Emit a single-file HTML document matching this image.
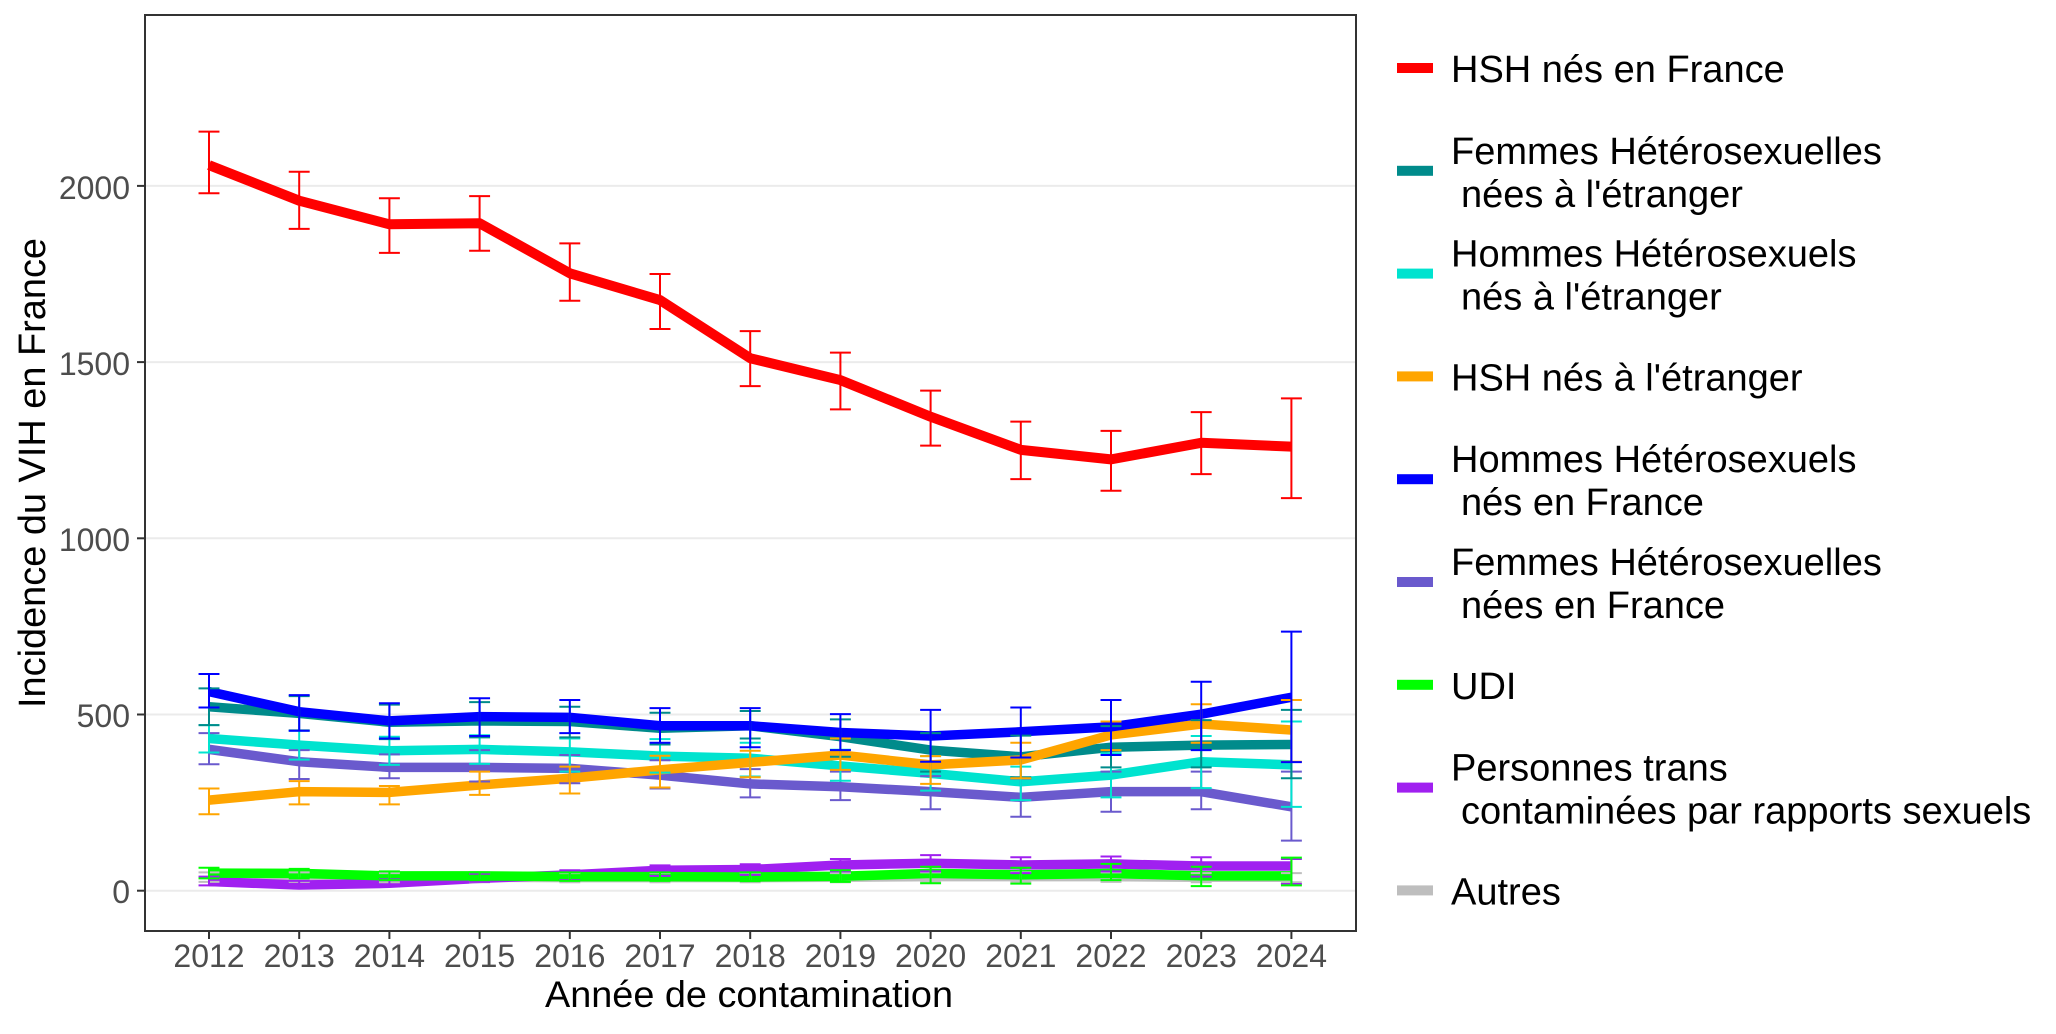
<!DOCTYPE html>
<html><head><meta charset="utf-8"><style>
html,body{margin:0;padding:0;background:#fff;}
svg{display:block;}
text{font-family:"Liberation Sans",Arial,sans-serif;}
</style></head><body>
<svg width="2056" height="1034" viewBox="0 0 2056 1034" xmlns="http://www.w3.org/2000/svg">
<rect x="0" y="0" width="2056" height="1034" fill="#fff"/>
<!-- gridlines -->
<g stroke="#EBEBEB" stroke-width="2">
<line x1="145" x2="1356" y1="890.7" y2="890.7"/>
<line x1="145" x2="1356" y1="714.5" y2="714.5"/>
<line x1="145" x2="1356" y1="538.3" y2="538.3"/>
<line x1="145" x2="1356" y1="362.1" y2="362.1"/>
<line x1="145" x2="1356" y1="185.9" y2="185.9"/>
</g>
<!-- data -->
<g transform="translate(209 890.7) scale(90.2 -0.3524)" fill="none" stroke-linejoin="round">
<g stroke-width="9.5">
<polyline vector-effect="non-scaling-stroke" stroke="#BEBEBE" points="0,40 1,40 2,38 3,38 4,37 5,37 6,37 7,38 8,40 9,40 10,40 11,38 12,38"/>
<polyline vector-effect="non-scaling-stroke" stroke="#A020F0" points="0,26 1,16 2,21 3,35 4,45 5,58 6,60 7,73 8,78 9,73 10,76 11,70 12,70"/>
<polyline vector-effect="non-scaling-stroke" stroke="#00FF00" points="0,50 1,49 2,42 3,42 4,40 5,40 6,39 7,41 8,49 9,45 10,49 11,42 12,42"/>
<polyline vector-effect="non-scaling-stroke" stroke="#6A5ACD" points="0,401 1,366 2,350 3,350 4,347 5,328 6,303 7,295 8,281 9,265 10,281 11,281 12,238"/>
<polyline vector-effect="non-scaling-stroke" stroke="#00E3CF" points="0,432 1,413 2,397 3,401 4,394 5,382 6,376 7,354 8,333 9,309 10,328 11,366 12,357"/>
<polyline vector-effect="non-scaling-stroke" stroke="#008B8B" points="0,522 1,503 2,478 3,482 4,480 5,461 6,468 7,437 8,399 9,380 10,407 11,413 12,415"/>
<polyline vector-effect="non-scaling-stroke" stroke="#FFA500" points="0,257 1,281 2,279 3,300 4,319 5,343 6,364 7,385 8,357 9,371 10,442 11,473 12,456"/>
<polyline vector-effect="non-scaling-stroke" stroke="#0000FF" points="0,565 1,508 2,482 3,494 4,492 5,468 6,468 7,449 8,439 9,451 10,465 11,501 12,549"/>
<polyline vector-effect="non-scaling-stroke" stroke="#FF0000" stroke-width="10" points="0,2059 1,1958 2,1891 3,1894 4,1752 5,1676 6,1511 7,1449 8,1345 9,1251 10,1224 11,1271 12,1260"/>
</g>
<g stroke-width="2">
<path vector-effect="non-scaling-stroke" stroke="#BEBEBE" d="M0 25V52M-.116 52H.116M-.116 25H.116M1 25V52M.884 52H1.116M.884 25H1.116M2 24V50M1.884 50H2.116M1.884 24H2.116M3 24V50M2.884 50H3.116M2.884 24H3.116M4 24V50M3.884 50H4.116M3.884 24H4.116M5 24V50M4.884 50H5.116M4.884 24H5.116M6 24V50M5.884 50H6.116M5.884 24H6.116M7 24V50M6.884 50H7.116M6.884 24H7.116M8 25V52M7.884 52H8.116M7.884 25H8.116M9 25V52M8.884 52H9.116M8.884 25H9.116M10 25V52M9.884 52H10.116M9.884 25H10.116M11 24V50M10.884 50H11.116M10.884 24H11.116M12 24V50M11.884 50H12.116M11.884 24H12.116"/>
<path vector-effect="non-scaling-stroke" stroke="#A020F0" d="M0 15V40M-.116 40H.116M-.116 15H.116M1 8V28M.884 28H1.116M.884 8H1.116M2 12V32M1.884 32H2.116M1.884 12H2.116M3 25V48M2.884 48H3.116M2.884 25H3.116M4 30V58M3.884 58H4.116M3.884 30H4.116M5 42V72M4.884 72H5.116M4.884 42H5.116M6 45V75M5.884 75H6.116M5.884 45H6.116M7 55V90M6.884 90H7.116M6.884 55H7.116M8 55V101M7.884 101H8.116M7.884 55H8.116M9 50V95M8.884 95H9.116M8.884 50H9.116M10 55V97M9.884 97H10.116M9.884 55H10.116M11 40V95M10.884 95H11.116M10.884 40H11.116M12 19V90M11.884 90H12.116M11.884 19H12.116"/>
<path vector-effect="non-scaling-stroke" stroke="#00FF00" d="M0 35V65M-.116 65H.116M-.116 35H.116M1 35V62M.884 62H1.116M.884 35H1.116M2 30V55M1.884 55H2.116M1.884 30H2.116M3 30V52M2.884 52H3.116M2.884 30H3.116M4 28V52M3.884 52H4.116M3.884 28H4.116M5 28V52M4.884 52H5.116M4.884 28H5.116M6 27V52M5.884 52H6.116M5.884 27H6.116M7 25V58M6.884 58H7.116M6.884 25H7.116M8 21V68M7.884 68H8.116M7.884 21H8.116M9 20V65M8.884 65H9.116M8.884 20H9.116M10 30V76M9.884 76H10.116M9.884 30H10.116M11 13V68M10.884 68H11.116M10.884 13H11.116M12 15V94M11.884 94H12.116M11.884 15H12.116"/>
<path vector-effect="non-scaling-stroke" stroke="#6A5ACD" d="M0 359V447M-.116 447H.116M-.116 359H.116M1 317V399M.884 399H1.116M.884 317H1.116M2 319V387M1.884 387H2.116M1.884 319H2.116M3 310V399M2.884 399H3.116M2.884 310H3.116M4 305V385M3.884 385H4.116M3.884 305H4.116M5 290V370M4.884 370H5.116M4.884 290H5.116M6 265V345M5.884 345H6.116M5.884 265H6.116M7 257V338M6.884 338H7.116M6.884 257H7.116M8 231V325M7.884 325H8.116M7.884 231H8.116M9 210V318M8.884 318H9.116M8.884 210H9.116M10 224V338M9.884 338H10.116M9.884 224H10.116M11 231V338M10.884 338H11.116M10.884 231H11.116M12 142V338M11.884 338H12.116M11.884 142H12.116"/>
<path vector-effect="non-scaling-stroke" stroke="#00E3CF" d="M0 392V470M-.116 470H.116M-.116 392H.116M1 372V454M.884 454H1.116M.884 372H1.116M2 357V437M1.884 437H2.116M1.884 357H2.116M3 360V441M2.884 441H3.116M2.884 360H3.116M4 338V432M3.884 432H4.116M3.884 338H4.116M5 335V430M4.884 430H5.116M4.884 335H5.116M6 324V420M5.884 420H6.116M5.884 324H6.116M7 312V400M6.884 400H7.116M6.884 312H7.116M8 284V382M7.884 382H8.116M7.884 284H8.116M9 257V352M8.884 352H9.116M8.884 257H9.116M10 265V390M9.884 390H10.116M9.884 265H10.116M11 291V439M10.884 439H11.116M10.884 291H11.116M12 238V480M11.884 480H12.116M11.884 238H12.116"/>
<path vector-effect="non-scaling-stroke" stroke="#008B8B" d="M0 470V574M-.116 574H.116M-.116 470H.116M1 455V552M.884 552H1.116M.884 455H1.116M2 430V528M1.884 528H2.116M1.884 430H2.116M3 435V535M2.884 535H3.116M2.884 435H3.116M4 435V522M3.884 522H4.116M3.884 435H4.116M5 415V505M4.884 505H5.116M4.884 415H5.116M6 432V510M5.884 510H6.116M5.884 432H6.116M7 380V486M6.884 486H7.116M6.884 380H7.116M8 338V447M7.884 447H8.116M7.884 338H8.116M9 322V440M8.884 440H9.116M8.884 322H9.116M10 350V467M9.884 467H10.116M9.884 350H10.116M11 350V484M10.884 484H11.116M10.884 350H11.116M12 319V513M11.884 513H12.116M11.884 319H12.116"/>
<path vector-effect="non-scaling-stroke" stroke="#FFA500" d="M0 217V290M-.116 290H.116M-.116 217H.116M1 245V311M.884 311H1.116M.884 245H1.116M2 245V297M1.884 297H2.116M1.884 245H2.116M3 272V338M2.884 338H3.116M2.884 272H3.116M4 276V352M3.884 352H4.116M3.884 276H4.116M5 293V383M4.884 383H5.116M4.884 293H5.116M6 322V397M5.884 397H6.116M5.884 322H6.116M7 343V432M6.884 432H7.116M6.884 343H7.116M8 303V382M7.884 382H8.116M7.884 303H8.116M9 319V420M8.884 420H9.116M8.884 319H9.116M10 399V480M9.884 480H10.116M9.884 399H10.116M11 420V529M10.884 529H11.116M10.884 420H11.116M12 366V541M11.884 541H12.116M11.884 366H12.116"/>
<path vector-effect="non-scaling-stroke" stroke="#0000FF" d="M0 520V615M-.116 615H.116M-.116 520H.116M1 454V555M.884 555H1.116M.884 454H1.116M2 432V532M1.884 532H2.116M1.884 432H2.116M3 439V546M2.884 546H3.116M2.884 439H3.116M4 447V541M3.884 541H4.116M3.884 447H4.116M5 420V518M4.884 518H5.116M4.884 420H5.116M6 407V518M5.884 518H6.116M5.884 407H6.116M7 399V501M6.884 501H7.116M6.884 399H7.116M8 366V513M7.884 513H8.116M7.884 366H8.116M9 378V520M8.884 520H9.116M8.884 378H9.116M10 385V541M9.884 541H10.116M9.884 385H10.116M11 399V593M10.884 593H11.116M10.884 399H11.116M12 365V735M11.884 735H12.116M11.884 365H12.116"/>
<path vector-effect="non-scaling-stroke" stroke="#FF0000" d="M0 1979V2154M-.116 2154H.116M-.116 1979H.116M1 1878V2040M.884 2040H1.116M.884 1878H1.116M2 1810V1965M1.884 1965H2.116M1.884 1810H2.116M3 1816V1971M2.884 1971H3.116M2.884 1816H3.116M4 1674V1837M3.884 1837H4.116M3.884 1674H4.116M5 1594V1750M4.884 1750H5.116M4.884 1594H5.116M6 1432V1588M5.884 1588H6.116M5.884 1432H6.116M7 1366V1527M6.884 1527H7.116M6.884 1366H7.116M8 1263V1419M7.884 1419H8.116M7.884 1263H8.116M9 1168V1331M8.884 1331H9.116M8.884 1168H9.116M10 1135V1305M9.884 1305H10.116M9.884 1135H10.116M11 1182V1358M10.884 1358H11.116M10.884 1182H11.116M12 1114V1397M11.884 1397H12.116M11.884 1114H12.116"/>
</g>
</g>
<!-- panel border -->
<rect x="145" y="15" width="1211" height="916" fill="none" stroke="#333333" stroke-width="2"/>
<!-- ticks -->
<g stroke="#333333" stroke-width="2">
<line x1="137" x2="145" y1="890.7" y2="890.7"/>
<line x1="137" x2="145" y1="714.5" y2="714.5"/>
<line x1="137" x2="145" y1="538.3" y2="538.3"/>
<line x1="137" x2="145" y1="362.1" y2="362.1"/>
<line x1="137" x2="145" y1="185.9" y2="185.9"/>
<line x1="209" x2="209" y1="931" y2="939"/>
<line x1="299.2" x2="299.2" y1="931" y2="939"/>
<line x1="389.4" x2="389.4" y1="931" y2="939"/>
<line x1="479.6" x2="479.6" y1="931" y2="939"/>
<line x1="569.8" x2="569.8" y1="931" y2="939"/>
<line x1="660" x2="660" y1="931" y2="939"/>
<line x1="750.2" x2="750.2" y1="931" y2="939"/>
<line x1="840.4" x2="840.4" y1="931" y2="939"/>
<line x1="930.6" x2="930.6" y1="931" y2="939"/>
<line x1="1020.8" x2="1020.8" y1="931" y2="939"/>
<line x1="1111" x2="1111" y1="931" y2="939"/>
<line x1="1201.2" x2="1201.2" y1="931" y2="939"/>
<line x1="1291.4" x2="1291.4" y1="931" y2="939"/>
</g>
<g font-size="32" fill="#4D4D4D" text-anchor="end">
<text x="130" y="903">0</text>
<text x="130" y="727">500</text>
<text x="130" y="551">1000</text>
<text x="130" y="375">1500</text>
<text x="130" y="199">2000</text>
</g>
<g font-size="32" fill="#4D4D4D" text-anchor="middle">
<text x="209" y="967">2012</text>
<text x="299.2" y="967">2013</text>
<text x="389.4" y="967">2014</text>
<text x="479.6" y="967">2015</text>
<text x="569.8" y="967">2016</text>
<text x="660" y="967">2017</text>
<text x="750.2" y="967">2018</text>
<text x="840.4" y="967">2019</text>
<text x="930.6" y="967">2020</text>
<text x="1020.8" y="967">2021</text>
<text x="1111" y="967">2022</text>
<text x="1201.2" y="967">2023</text>
<text x="1291.4" y="967">2024</text>
</g>
<text x="749" y="1007" font-size="37" fill="#000" text-anchor="middle" textLength="408" lengthAdjust="spacingAndGlyphs">Année de contamination</text>
<text transform="translate(45 473) rotate(-90)" font-size="38" fill="#000" text-anchor="middle" textLength="470" lengthAdjust="spacingAndGlyphs">Incidence du VIH en France</text>
<!-- legend -->
<rect x="1397" y="63" width="36" height="10" fill="#FF0000"/>
<rect x="1397" y="165.8" width="36" height="10" fill="#008B8B"/>
<rect x="1397" y="268.6" width="36" height="10" fill="#00E3CF"/>
<rect x="1397" y="371.4" width="36" height="10" fill="#FFA500"/>
<rect x="1397" y="474.2" width="36" height="10" fill="#0000FF"/>
<rect x="1397" y="577" width="36" height="10" fill="#6A5ACD"/>
<rect x="1397" y="679.8" width="36" height="10" fill="#00FF00"/>
<rect x="1397" y="782.6" width="36" height="10" fill="#A020F0"/>
<rect x="1397" y="885.4" width="36" height="10" fill="#BEBEBE"/>
<g font-size="38" fill="#000">
<text x="1451" y="82">HSH nés en France</text>
<text x="1451" y="163.8">Femmes Hétérosexuelles</text>
<text x="1461" y="206.8">nées à l'étranger</text>
<text x="1451" y="266.6">Hommes Hétérosexuels</text>
<text x="1461" y="309.6">nés à l'étranger</text>
<text x="1451" y="390.4">HSH nés à l'étranger</text>
<text x="1451" y="472.2">Hommes Hétérosexuels</text>
<text x="1461" y="515.2">nés en France</text>
<text x="1451" y="575">Femmes Hétérosexuelles</text>
<text x="1461" y="618">nées en France</text>
<text x="1451" y="698.8">UDI</text>
<text x="1451" y="780.6">Personnes trans</text>
<text x="1461" y="823.6">contaminées par rapports sexuels</text>
<text x="1451" y="904.4">Autres</text>
</g>
</svg>
</body></html>
